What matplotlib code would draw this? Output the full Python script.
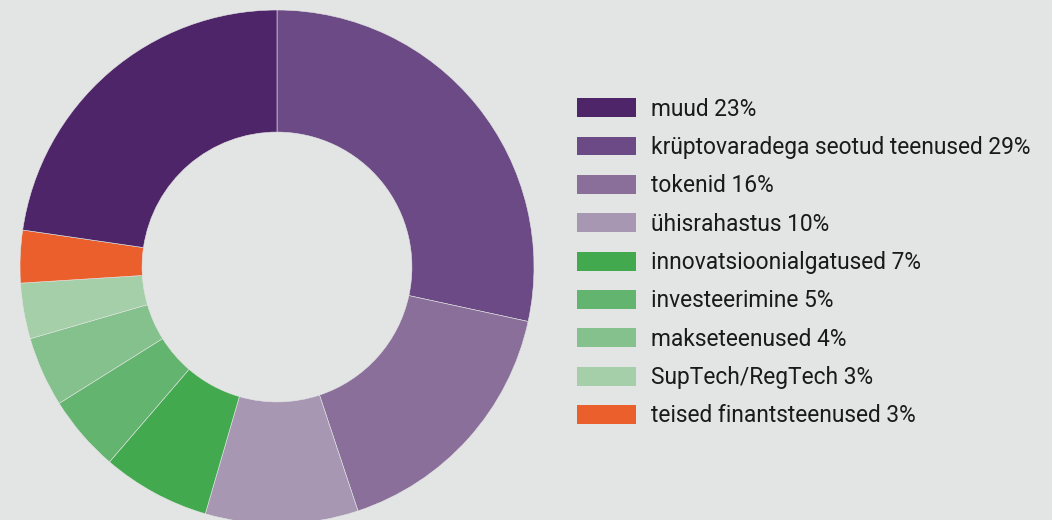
import matplotlib.pyplot as plt

# Data (clockwise from 12 o'clock)
labels = ['krüptovaradega seotud teenused', 'tokenid', 'ühisrahastus',
          'innovatsioonialgatused', 'investeerimine', 'makseteenused',
          'SupTech/RegTech', 'teised finantsteenused', 'muud']
shares = [28.4, 16.5, 9.6, 6.8, 4.8, 4.4, 3.5, 3.3, 22.7]
label_pct = [29, 16, 10, 7, 5, 4, 3, 3, 23]
colors = ['#6b4a85', '#8a6f9a', '#a897b3', '#43a94f', '#63b46f',
          '#84c18c', '#a5cfa8', '#ea5f2c', '#4f2569']

# legend order as in the source
legend_order = [8, 0, 1, 2, 3, 4, 5, 6, 7]

bg = '#e3e5e4'
plt.rcParams['font.family'] = ['Roboto', 'DejaVu Sans']

fig = plt.figure(figsize=(10.52, 5.2), dpi=100, facecolor=bg)
ax = fig.add_axes([20 / 1052, -4 / 520, 514 / 1052, 514 / 520])
ax.set_facecolor(bg)

wedges, _ = ax.pie(shares, colors=colors, startangle=90, counterclock=False,
                   radius=1, wedgeprops=dict(width=0.475, edgecolor=bg, linewidth=0.4))
ax.set_xlim(-1, 1)
ax.set_ylim(-1, 1)
ax.set_aspect('equal')
ax.axis('off')

handles = [wedges[i] for i in legend_order]
texts = [f'{labels[i]} {label_pct[i]}%' for i in legend_order]
leg = fig.legend(handles, texts, loc='upper left',
                 bbox_to_anchor=(577 / 1052, 1 - 97.5 / 520),
                 frameon=False, fontsize=16.4, borderpad=0, borderaxespad=0,
                 handlelength=2.6, handleheight=0.9, handletextpad=0.66,
                 labelspacing=0.675)
for t in leg.get_texts():
    t.set_color('#1a1a1a')
for h in leg.legend_handles:
    h.set_linewidth(0)

fig.savefig('out.png', dpi=100, facecolor=bg)
